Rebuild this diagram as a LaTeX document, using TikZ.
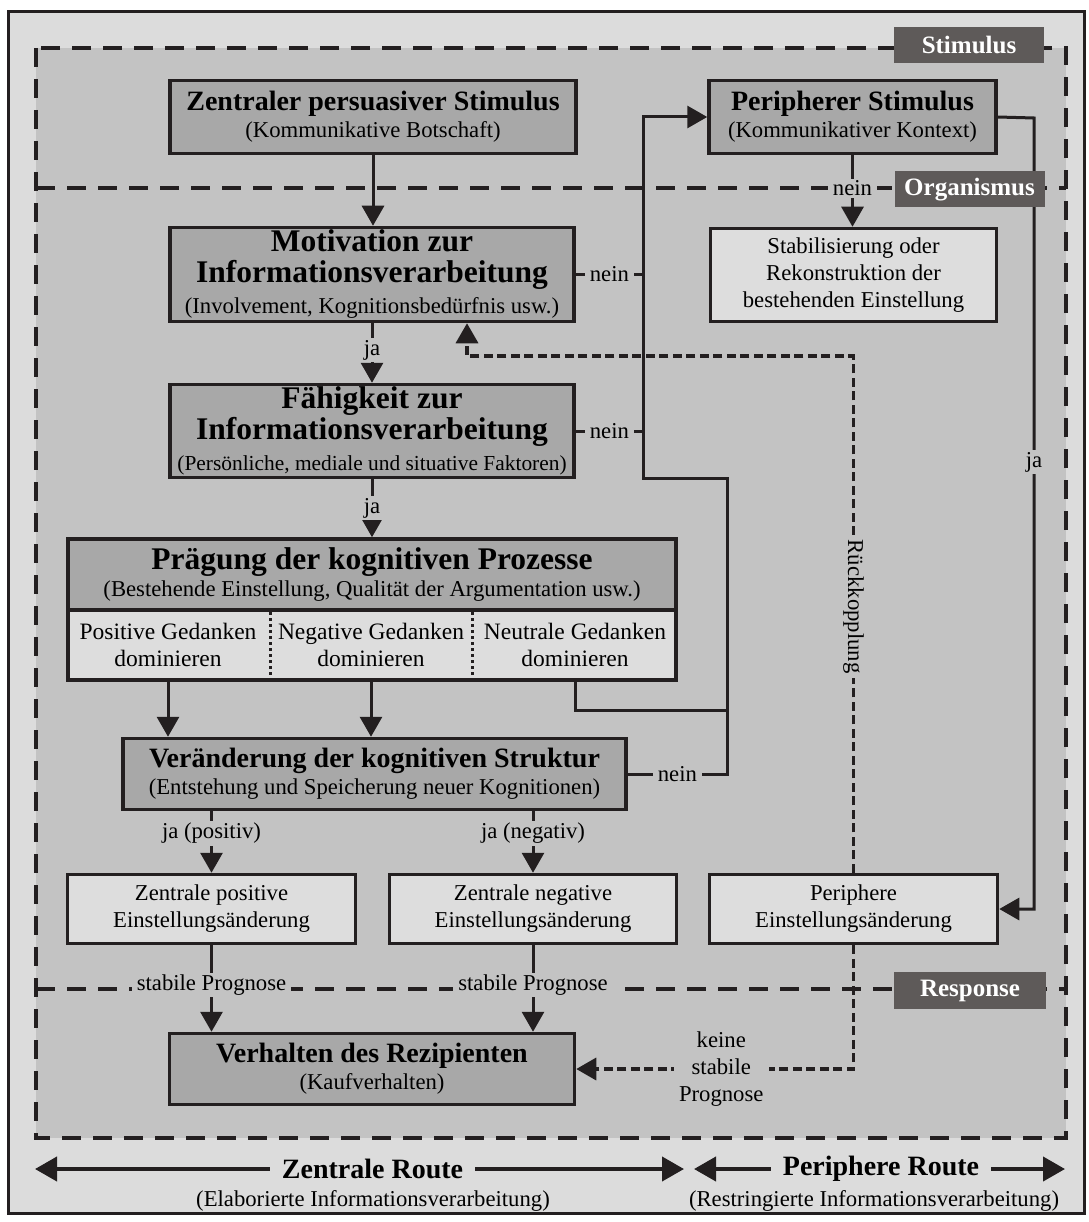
\documentclass[tikz,border=0pt]{standalone}
\usepackage{fontspec}
\setmainfont{Liberation Serif}
\usetikzlibrary{arrows.meta}
\definecolor{outerbg}{RGB}{220,220,220}
\definecolor{innerbg}{RGB}{195,195,195}
\definecolor{darkfill}{RGB}{168,168,168}
\definecolor{lightfill}{RGB}{221,221,221}
\definecolor{tagfill}{RGB}{94,90,89}
\definecolor{ink}{RGB}{35,31,32}
\newcommand\headfont{\fontsize{28}{30}\selectfont\bfseries}
\newcommand\bigheadfont{\fontsize{31.5}{31}\selectfont\bfseries}
\newcommand\bodyfont{\fontsize{22.7}{27}\selectfont}
\newcommand\smallbodyfont{\fontsize{21.4}{27}\selectfont}
\newcommand\thoughtfont{\fontsize{23.5}{27}\selectfont}
\newcommand\tagfont{\fontsize{25}{28}\selectfont\bfseries}
\begin{document}
\begin{tikzpicture}[x=1pt,y=-1pt,
  box/.style={draw=ink,line width=3.5pt,align=center,inner sep=0pt,font=\bodyfont},
  darkbox/.style={box,fill=darkfill},
  lightbox/.style={box,fill=lightfill},
  thought/.style={align=center,font=\thoughtfont,minimum width=200pt,minimum height=70pt,inner sep=0pt},
  tagbox/.style={fill=tagfill,text=white,font=\tagfont,minimum width=150pt,minimum height=36pt,inner sep=0pt},
  conn/.style={draw=ink,line width=3pt},
  pointed/.style={-{Triangle[length=20pt,width=22pt]}},
  arr/.style={conn,pointed},
  feedback/.style={draw=ink,line width=3.5pt,dash pattern=on 9pt off 4.5pt},
  zone/.style={draw=ink,line width=4pt,dash pattern=on 19pt off 12pt},
  lbl/.style={fill=innerbg,font=\bodyfont,inner xsep=5pt,inner ysep=2pt,align=center},
  routeline/.style={draw=ink,line width=4pt,{Triangle[length=22pt,width=24pt]}-{Triangle[length=22pt,width=24pt]}},
  routelbl/.style={fill=outerbg,font=\headfont,inner xsep=12pt,inner ysep=2pt},
]
\useasboundingbox (0,0) rectangle (1088,1222);
\fill[white] (0,0) rectangle (1088,1222);

% frame and zones
\draw[ink,line width=3pt,fill=outerbg] (8,12) rectangle (1084,1213);
\draw[zone,fill=innerbg] (36,48) rectangle (1066,1138);
\draw[zone] (36,188) -- (1066,188);
\draw[zone] (36,989) -- (1066,989);

% stimulus level
\node[darkbox,minimum width=406pt,minimum height=73pt] (zps) at (373,117)
  {{\headfont Zentraler persuasiver Stimulus}\\(Kommunikative Botschaft)};
\node[darkbox,minimum width=287pt,minimum height=73pt] (ps) at (852.5,117)
  {{\headfont Peripherer Stimulus}\\(Kommunikativer Kontext)};

% organism level
\node[darkbox,minimum width=404pt,minimum height=94pt,font=\bigheadfont] (mot) at (372,274.5)
  {Motivation zur\\Informationsverarbeitung\\{\mdseries\bodyfont (Involvement, Kognitionsbedürfnis usw.)}};
\node[lightbox,minimum width=286pt,minimum height=93pt] (stab) at (853.5,275)
  {Stabilisierung oder\\Rekonstruktion der\\bestehenden Einstellung};
\node[darkbox,minimum width=404pt,minimum height=93pt,font=\bigheadfont] (fae) at (372,431)
  {Fähigkeit zur\\Informationsverarbeitung\\{\mdseries\smallbodyfont (Persönliche, mediale und situative Faktoren)}};

\node[darkbox,minimum width=608pt,minimum height=71pt] (praeg) at (372,574.5)
  {{\bigheadfont Prägung der kognitiven Prozesse}\\(Bestehende Einstellung, Qualität der Argumentation usw.)};
\node[lightbox,minimum width=608pt,minimum height=70pt] (gedanken) at (372,645) {};
\draw[ink,line width=3pt,dash pattern=on 3pt off 3pt] (270,612) -- (270,679);
\draw[ink,line width=3pt,dash pattern=on 3pt off 3pt] (472,612) -- (472,679);
\node[thought] (pos) at (168,645) {Positive Gedanken\\dominieren};
\node[thought] (neg) at (371,645) {Negative Gedanken\\dominieren};
\node[thought] (neu) at (575,645) {Neutrale Gedanken\\dominieren};

\node[darkbox,minimum width=503pt,minimum height=71pt] (ver) at (374.5,774)
  {{\headfont Veränderung der kognitiven Struktur}\\(Entstehung und Speicherung neuer Kognitionen)};

\node[lightbox,minimum width=288pt,minimum height=69pt] (zpos) at (211.5,909)
  {Zentrale positive\\Einstellungsänderung};
\node[lightbox,minimum width=287pt,minimum height=69pt] (zneg) at (533,909)
  {Zentrale negative\\Einstellungsänderung};
\node[lightbox,minimum width=288pt,minimum height=69pt] (periph) at (853.5,909)
  {Periphere\\Einstellungsänderung};

% response level
\node[darkbox,minimum width=405pt,minimum height=71pt] (verh) at (372,1069)
  {{\headfont Verhalten des Rezipienten}\\(Kaufverhalten)};

% bend points of the loops
\coordinate (loopIn) at (643,478);
\coordinate (loopOut) at (727,478);
\coordinate (neuBend) at (727,710);
\coordinate (jaLine) at (1034,118);
\coordinate (fbBend) at (467,356);

% central route
\draw[arr] (zps.south) -- (zps.south |- mot.north);
\draw[arr] (mot.south) -- node[lbl,pos=0.45] {ja} (fae.north);
\draw[arr] (fae.south) -- node[lbl,pos=0.5] {ja} (fae.south |- praeg.north);
\draw[arr] (pos.south) -- (pos.south |- ver.north);
\draw[arr] (neg.south) -- (neg.south |- ver.north);
\draw[arr] (zpos.north |- ver.south) -- node[lbl,pos=0.36] {ja (positiv)} (zpos.north);
\draw[arr] (zneg.north |- ver.south) -- node[lbl,pos=0.36] {ja (negativ)} (zneg.north);
\draw[arr] (zpos.south) -- node[lbl,pos=0.46] {stabile Prognose} (zpos.south |- verh.north);
\draw[arr] (zneg.south) -- node[lbl,pos=0.46] {stabile Prognose} (zneg.south |- verh.north);

% switch to the peripheral route
\draw[conn] (mot.east) -- node[lbl] {nein} (mot.east -| loopIn);
\draw[conn] (fae.east) -- node[lbl] {nein} (fae.east -| loopIn);
\draw[conn] (neu.south) |- (neuBend);
\draw[arr] (ver.east) -- node[lbl] {nein} (ver.east -| loopOut) -- (loopOut) -- (loopIn)
  -- (loopIn |- ps.west) -- (ps.west);

% peripheral route
\draw[arr] (ps.south) -- node[lbl,pos=0.46] {nein} (ps.south |- stab.north);
\draw[arr] (ps.east) -- (jaLine) -- node[lbl,pos=0.435] {ja} (jaLine |- periph.east) -- (periph.east);

% feedback and unstable forecast
\draw[feedback,pointed] (periph.north) -- node[lbl,pos=0.515,rotate=-90] {Rückkopplung}
  (periph.north |- fbBend) -- (fbBend) -- (fbBend |- mot.south);
\draw[feedback,pointed] (periph.south) -- (periph.south |- verh.east)
  -- node[lbl,pos=0.477,inner ysep=1pt] {keine\\stabile\\Prognose} (verh.east);

% zone tags
\node[tagbox] (tStim) at (969,45) {Stimulus};
\node[tagbox] (tOrg) at (969.5,189.5) {Organismus};
\node[tagbox,minimum width=152pt,minimum height=37pt] (tResp) at (970,990.5) {Response};

% routes
\coordinate (zA) at (35,1169);
\coordinate (zB) at (684,1169);
\coordinate (pA) at (694,1169);
\coordinate (pB) at (1065,1169);
\draw[routeline] (zA) -- node[routelbl,pos=0.52] (zr) {Zentrale Route} (zB);
\draw[routeline] (pA) -- node[routelbl,pos=0.504] (pr) {Periphere Route} (pB);
\node[font=\bodyfont] (zrSub) at (373,1201) {(Elaborierte Informationsverarbeitung)};
\node[font=\bodyfont] (prSub) at (874,1201) {(Restringierte Informationsverarbeitung)};
\end{tikzpicture}
\end{document}
